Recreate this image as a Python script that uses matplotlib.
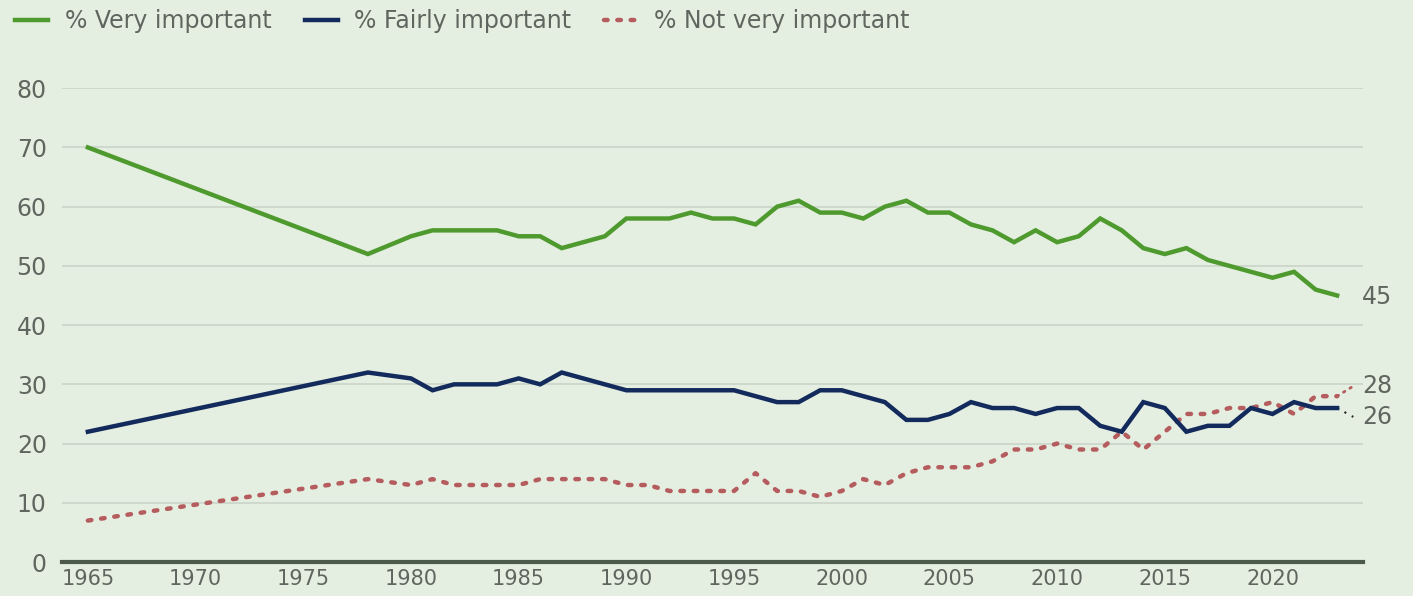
import matplotlib
matplotlib.use("Agg")
import matplotlib.pyplot as plt

# survey years (no 1966-1977, no 1979)
years = [1965, 1978] + list(range(1980, 2024))

very_important = [70, 52,
                  55, 56, 56, 56, 56, 55, 55, 53, 54, 55,
                  58, 58, 58, 59, 58, 58, 57, 60, 61, 59,
                  59, 58, 60, 61, 59, 59, 57, 56, 54, 56,
                  54, 55, 58, 56, 53, 52, 53, 51, 50, 49,
                  48, 49, 46, 45]
fairly_important = [22, 32,
                    31, 29, 30, 30, 30, 31, 30, 32, 31, 30,
                    29, 29, 29, 29, 29, 29, 28, 27, 27, 29,
                    29, 28, 27, 24, 24, 25, 27, 26, 26, 25,
                    26, 26, 23, 22, 27, 26, 22, 23, 23, 26,
                    25, 27, 26, 26]
not_very_important = [7, 14,
                      13, 14, 13, 13, 13, 13, 14, 14, 14, 14,
                      13, 13, 12, 12, 12, 12, 15, 12, 12, 11,
                      12, 14, 13, 15, 16, 16, 16, 17, 19, 19,
                      20, 19, 19, 22, 19, 22, 25, 25, 26, 26,
                      27, 25, 28, 28]

end_labels = ["45", "28", "26"]
end_label_y = [44.8, 29.7, 24.5]

GREEN = "#4f9a2e"
NAVY = "#132a5c"
RED = "#b55c5e"
BG = "#e4efe1"
TXT = "#5f665f"
GRID = "#cdd6ca"

plt.rcParams['font.family'] = ['DejaVu Sans']

fig = plt.figure(figsize=(14.13, 5.96), dpi=100, facecolor=BG)
ax = fig.add_axes([0.0439, 0.057, 0.9207, 0.795], facecolor=BG)

ax.plot(years, very_important, color=GREEN, lw=3.2, label="% Very important",
        solid_joinstyle='miter', zorder=4)
ax.plot(years, fairly_important, color=NAVY, lw=3.2, label="% Fairly important",
        solid_joinstyle='miter', zorder=3)
ax.plot(years, not_very_important, color=RED, lw=3.2, label="% Not very important",
        linestyle=(0, (0.8, 2.2)), dash_capstyle='round', zorder=2)

# short leader lines to the end labels
ax.plot([years[-1], 2023.75], [not_very_important[-1], end_label_y[1]],
        color=RED, lw=2, linestyle=(0, (0.6, 2.1)), dash_capstyle='round', clip_on=False)
ax.plot([years[-1], 2023.75], [fairly_important[-1], end_label_y[2]],
        color="#222222", lw=1.5, linestyle=(0, (1, 3)), clip_on=False)

for lab, yv in zip(end_labels, end_label_y):
    ax.text(2024.15, yv, lab, color=TXT, fontsize=17, va='center', ha='left', clip_on=False)

ax.set_xlim(1963.8, 2024.2)
ax.set_ylim(0, 80)
ax.set_yticks(range(0, 81, 10))
ax.set_xticks(range(1965, 2021, 5))
for yv in range(10, 81, 10):
    ax.axhline(yv, color=GRID, lw=1.3, zorder=1)
ax.axhline(0, color="#4b5a4b", lw=3, zorder=5, clip_on=False)

for s in ax.spines.values():
    s.set_visible(False)
ax.tick_params(axis='both', length=0, colors=TXT)
ax.tick_params(axis='y', pad=11, labelsize=17)
ax.tick_params(axis='x', pad=5, labelsize=15)

fig.legend(loc='upper left', bbox_to_anchor=(0.0, 1.01), ncol=3, frameon=False,
           fontsize=17, handlelength=1.4, handletextpad=0.7, columnspacing=1.4,
           labelcolor=TXT, borderaxespad=0.25)

fig.savefig("out.png", dpi=100, facecolor=BG)
